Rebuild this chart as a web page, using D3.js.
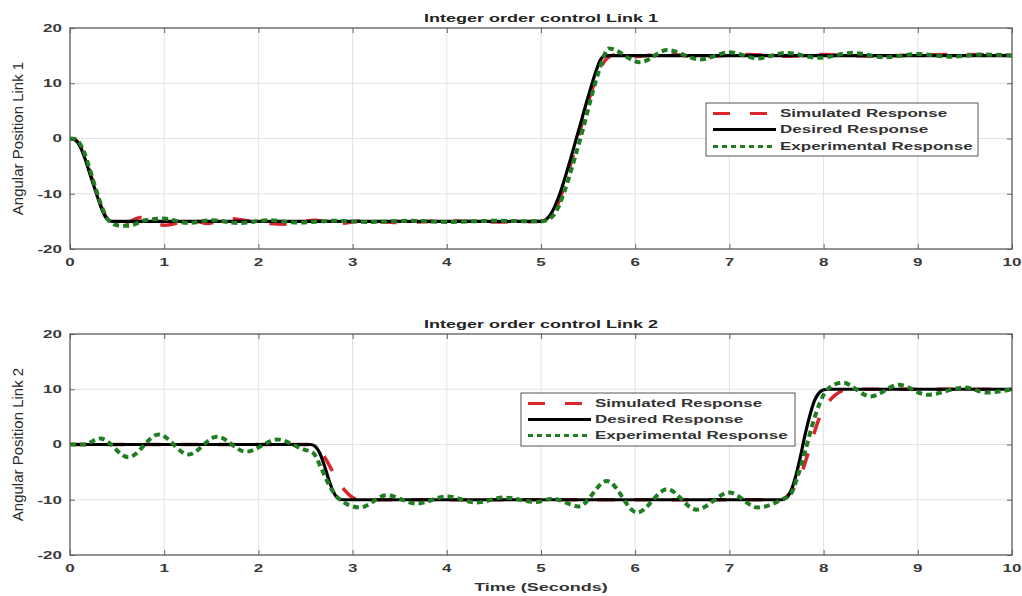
<!DOCTYPE html>
<html>
<head>
<meta charset="utf-8">
<script src="https://cdn.jsdelivr.net/npm/d3@7"></script>
<style>
  body { margin: 0; background: #fff; }
  svg { display: block; }
</style>
</head>
<body>
<div id="chart"></div>
<script>
// ---- data ----
const xTicks = [0, 1, 2, 3, 4, 5, 6, 7, 8, 9, 10];
const yTicks = [-20, -10, 0, 10, 20];
const seriesNames = ["Simulated Response", "Desired Response", "Experimental Response"];

// Link 1
const desTime1 = [0, 0.05, 0.1, 0.15, 0.2, 0.25, 0.3, 0.35, 0.4, 0.45, 5.0, 5.05, 5.1, 5.2, 5.3, 5.4, 5.5, 5.58, 5.63, 5.68, 10];
const desVal1  = [0, -0.2, -1.2, -3.2, -5.8, -8.4, -11, -13.3, -14.7, -15, -15, -14.7, -13.8, -10, -4.5, 1.5, 7.5, 12, 14.2, 15, 15];

const simTime1 = [0, 0.05, 0.1, 0.15, 0.2, 0.25, 0.3, 0.35, 0.4, 0.47, 0.6, 0.75, 1.0, 1.3, 1.45, 1.7, 2.0, 2.3, 2.6, 2.85, 3.1, 3.5, 4.0, 4.5, 5.0, 5.05, 5.1, 5.2, 5.3, 5.4, 5.5, 5.6, 5.7, 5.8, 6.0, 6.3, 6.7, 7.2, 7.6, 8.0, 8.5, 9.0, 9.5, 10];
const simVal1  = [0, -0.2, -1.0, -2.9, -5.5, -8.2, -10.8, -13.1, -14.6, -15.3, -15.2, -14.3, -15.7, -14.8, -15.4, -14.5, -15.2, -15.5, -14.8, -15.4, -14.9, -15.2, -14.9, -15.1, -15, -14.8, -14.2, -11, -5.5, 0.5, 6.5, 11.5, 14.5, 15.2, 14.8, 15.3, 14.8, 15.2, 14.9, 15.2, 14.9, 15.1, 15.2, 15];

const expTime1 = [0, 0.05, 0.1, 0.15, 0.2, 0.25, 0.3, 0.35, 0.4, 0.5, 0.62, 0.8, 1.0, 1.25, 1.5, 1.8, 2.1, 2.4, 2.8, 3.2, 3.6, 4.0, 4.5, 5.0, 5.08, 5.15, 5.25, 5.35, 5.45, 5.55, 5.62, 5.72, 6.05, 6.34, 6.69, 7.0, 7.3, 7.6, 7.95, 8.3, 8.65, 9.0, 9.35, 9.7, 10];
const expVal1  = [0, -0.1, -0.8, -2.5, -5, -7.8, -10.5, -12.9, -14.6, -15.7, -15.8, -14.8, -14.5, -15.3, -14.8, -15.3, -14.8, -15.2, -14.9, -15.1, -14.9, -15.1, -14.9, -15, -14.6, -13.5, -9.5, -4, 2, 8.5, 12.5, 16.3, 13.8, 16, 14.3, 15.6, 14.5, 15.5, 14.6, 15.5, 14.7, 15.3, 14.8, 15.2, 15];

// Link 2
const desTime2 = [0, 2.55, 2.6, 2.65, 2.7, 2.75, 2.8, 2.85, 2.9, 7.55, 7.6, 7.65, 7.7, 7.75, 7.8, 7.85, 7.9, 7.95, 8.0, 8.05, 10];
const desVal2  = [0, 0, -0.3, -1.5, -3.8, -6.5, -8.7, -9.8, -10, -10, -9.7, -8.5, -6, -2.5, 1.5, 5, 7.8, 9.3, 9.9, 10, 10];

const simTime2 = [0, 2.55, 2.62, 2.7, 2.76, 2.85, 2.94, 3.0, 3.08, 7.55, 7.61, 7.7, 7.78, 7.88, 7.96, 8.03, 8.1, 8.18, 8.26, 10];
const simVal2  = [0, 0, -0.5, -2.2, -4, -6.8, -8.7, -9.6, -10, -10, -9.4, -7.5, -4.5, 1, 5, 7.2, 8.6, 9.6, 10, 10];

const expTime2 = [0, 0.15, 0.32, 0.62, 0.94, 1.26, 1.56, 1.87, 2.2, 2.48, 2.58, 2.66, 2.74, 2.82, 2.9, 3.08, 3.36, 3.68, 4.0, 4.32, 4.6, 4.95, 5.12, 5.4, 5.7, 6.02, 6.34, 6.65, 7.0, 7.3, 7.55, 7.65, 7.72, 7.8, 7.88, 7.96, 8.04, 8.2, 8.5, 8.8, 9.1, 9.5, 9.73, 10];
const expVal2  = [0, 0, 1.1, -2.3, 1.8, -1.8, 1.4, -1.3, 0.9, -0.9, -1.5, -4, -7, -9.2, -10.4, -11.4, -9.2, -10.7, -9.4, -10.5, -9.6, -10.4, -9.8, -11.2, -6.6, -12.3, -8.1, -11.8, -8.7, -11.4, -10, -9, -6, -1.5, 3.5, 7.5, 10, 11.2, 8.7, 10.8, 9.0, 10.3, 9.4, 10];

// ---- layout ----
const width = 1022, height = 596;
const squash = 0.65;   // text in the source image is flattened vertically

const styles = {
  sim: { color: "#d8262b", width: 3.5, dash: "17,20" },
  des: { color: "#000000", width: 3.2, dash: null },
  exp: { color: "#1f7d22", width: 4, dash: "6,4" }
};

const panels = [
  {
    title: "Integer order control Link 1",
    ylabel: "Angular Position Link 1",
    top: 28, bottom: 249,
    legend: { x: 706, y: 103, w: 272, rows: [113.5, 129.5, 146.5], h: 53 },
    sim: [simTime1, simVal1], des: [desTime1, desVal1], exp: [expTime1, expVal1],
    xlabel: null
  },
  {
    title: "Integer order control Link 2",
    ylabel: "Angular Position Link 2",
    top: 334, bottom: 555,
    legend: { x: 521, y: 393, w: 274, rows: [403.5, 419.5, 435.5], h: 53 },
    sim: [simTime2, simVal2], des: [desTime2, desVal2], exp: [expTime2, expVal2],
    xlabel: "Time (Seconds)"
  }
];

const left = 70, right = 1012;

const svg = d3.select("#chart")
  .append("svg")
  .attr("width", width)
  .attr("height", height)
  .style("font-family", "'Liberation Sans', Arial, Helvetica, sans-serif");

function flatText(parent, x, y, txt, size, weight, anchor, color) {
  parent.append("g")
    .attr("transform", `translate(${x},${y}) scale(1,${squash})`)
    .append("text")
    .attr("text-anchor", anchor)
    .attr("dy", "0.36em")
    .style("font-size", size + "px")
    .style("font-weight", weight)
    .attr("fill", color)
    .text(txt);
}

const x = d3.scaleLinear().domain([0, 10]).range([left, right]);

panels.forEach(p => {
  const y = d3.scaleLinear().domain([-20, 20]).range([p.bottom, p.top]);
  const g = svg.append("g");

  // grid
  g.append("g").selectAll("line.gx")
    .data(xTicks.slice(1, -1))
    .enter().append("line")
    .attr("x1", d => x(d)).attr("x2", d => x(d))
    .attr("y1", p.top).attr("y2", p.bottom)
    .attr("stroke", "#e2e2e2").attr("stroke-width", 1);

  g.append("g").selectAll("line.gy")
    .data(yTicks.slice(1, -1))
    .enter().append("line")
    .attr("x1", left).attr("x2", right)
    .attr("y1", d => y(d)).attr("y2", d => y(d))
    .attr("stroke", "#e2e2e2").attr("stroke-width", 1);

  // inward ticks on all four sides
  const tickLen = 5;
  g.append("g").attr("transform", `translate(0,${p.bottom})`)
    .call(d3.axisTop(x).tickValues(xTicks).tickSize(tickLen).tickFormat(""));
  g.append("g").attr("transform", `translate(0,${p.top})`)
    .call(d3.axisBottom(x).tickValues(xTicks).tickSize(tickLen).tickFormat(""));
  g.append("g").attr("transform", `translate(${left},0)`)
    .call(d3.axisRight(y).tickValues(yTicks).tickSize(tickLen).tickFormat(""));
  g.append("g").attr("transform", `translate(${right},0)`)
    .call(d3.axisLeft(y).tickValues(yTicks).tickSize(tickLen).tickFormat(""));
  g.selectAll(".domain").remove();
  g.selectAll(".tick line").attr("stroke", "#666").attr("stroke-width", 1);

  // curves
  const line = d3.line()
    .x(d => x(d[0]))
    .y(d => y(d[1]))
    .curve(d3.curveMonotoneX);

  ["sim", "des", "exp"].forEach(key => {
    const [ts, vs] = p[key];
    const pts = ts.map((t, i) => [t, vs[i]]);
    const s = styles[key];
    g.append("path")
      .datum(pts)
      .attr("d", line)
      .attr("fill", "none")
      .attr("stroke", s.color)
      .attr("stroke-width", s.width)
      .attr("stroke-dasharray", s.dash)
      .attr("stroke-linejoin", "round");
  });

  // box
  g.append("rect")
    .attr("x", left).attr("y", p.top)
    .attr("width", right - left).attr("height", p.bottom - p.top)
    .attr("fill", "none")
    .attr("stroke", "#5a5a5a")
    .attr("stroke-width", 1.3);

  // tick labels
  xTicks.forEach(t => flatText(g, x(t), p.bottom + 13, t, 17, "bold", "middle", "#3a3a3a"));
  yTicks.forEach(t => flatText(g, left - 8, y(t), t, 17, "bold", "end", "#3a3a3a"));

  // title
  flatText(g, (left + right) / 2, p.top - 10, p.title, 18, "bold", "middle", "#222");

  // y label
  g.append("text")
    .attr("transform", `translate(18,${(p.top + p.bottom) / 2}) rotate(-90)`)
    .attr("text-anchor", "middle")
    .attr("dy", "0.33em")
    .style("font-size", "15px")
    .attr("fill", "#2a2a2a")
    .text(p.ylabel);

  if (p.xlabel) {
    flatText(g, (left + right) / 2, p.bottom + 32, p.xlabel, 18, "bold", "middle", "#333");
  }

  // legend
  const L = p.legend;
  const lg = g.append("g");
  lg.append("rect")
    .attr("x", L.x).attr("y", L.y)
    .attr("width", L.w).attr("height", L.h)
    .attr("fill", "#fff")
    .attr("stroke", "#555")
    .attr("stroke-width", 1);

  ["sim", "des", "exp"].forEach((key, i) => {
    const s = styles[key];
    lg.append("line")
      .attr("x1", L.x + 7).attr("x2", L.x + 70)
      .attr("y1", L.rows[i]).attr("y2", L.rows[i])
      .attr("stroke", s.color)
      .attr("stroke-width", Math.min(s.width, 3))
      .attr("stroke-dasharray", key === "exp" ? "5,4" : s.dash);
    flatText(lg, L.x + 74, L.rows[i], seriesNames[i], 17, "bold", "start", "#333");
  });
});
</script>
</body>
</html>
